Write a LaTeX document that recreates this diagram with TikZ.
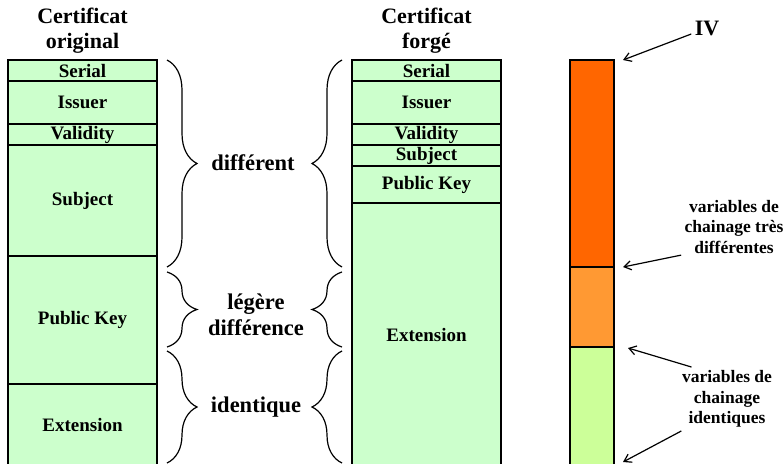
\documentclass[tikz,border=0pt]{standalone}
\usepackage{fontspec}
\setmainfont{Liberation Serif}
\usetikzlibrary{positioning, decorations.pathreplacing, arrows.meta}
\definecolor{fieldgreen}{HTML}{CCFFCC}
\definecolor{ivorange}{HTML}{FF6600}
\definecolor{midorange}{HTML}{FF9933}
\definecolor{lowgreen}{HTML}{CCFF99}
\tikzstyle{field} = [rectangle, draw, line width=1.3pt, outer sep=0pt, inner sep=0pt, fill=fieldgreen, minimum width=149pt, font=\bfseries\fontsize{19}{20}\selectfont]
\tikzstyle{block} = [rectangle, draw, line width=1.3pt, outer sep=0pt, minimum width=44pt]
\tikzstyle{title} = [align=center, font=\bfseries\fontsize{22}{25}\selectfont]
\tikzstyle{note} = [align=center, font=\bfseries\fontsize{17.5}{20.5}\selectfont]
\tikzstyle{brace} = [decorate, decoration={brace, amplitude=30pt}, line width=1.2pt]
\tikzstyle{arrow} = [line width=1.2pt, -{Straight Barb[length=7pt,width=9pt]}]

\begin{document}
\begin{tikzpicture}[x=1pt, y=-1pt]
\clip (0,0) rectangle (783,463);
% certificat original
\node(otitle) [title] at (82.5,31) {Certificat\\original};
\node(oserial) [field, minimum height=21pt, anchor=north] at (82.5,60) {Serial};
\node(oissuer) [field, minimum height=43pt, below=0pt of oserial] {Issuer};
\node(ovalidity) [field, minimum height=21pt, below=0pt of oissuer] {Validity};
\node(osubject) [field, minimum height=111pt, below=0pt of ovalidity] {Subject};
\node(okey) [field, minimum height=128pt, below=0pt of osubject] {Public Key};
\node(oext) [field, minimum height=82pt, below=0pt of okey] {Extension};
% certificat forge
\node(ftitle) [title] at (426.5,31) {Certificat\\forgé};
\node(fserial) [field, minimum height=21pt, anchor=north] at (426.5,60) {Serial};
\node(fissuer) [field, minimum height=43pt, below=0pt of fserial] {Issuer};
\node(fvalidity) [field, minimum height=21pt, below=0pt of fissuer] {Validity};
\node(fsubject) [field, minimum height=21pt, below=0pt of fvalidity] {Subject};
\node(fkey) [field, minimum height=37pt, below=0pt of fsubject] {Public Key};
\node(fext) [field, minimum height=263pt, below=0pt of fkey] {Extension};
% accolades
\draw[brace] (167,60) -- (167,267);
\draw[brace] (167,272) -- (167,347);
\draw[brace] (167,351) -- (167,463);
\draw[brace] (342,267) -- (342,60);
\draw[brace] (342,347) -- (342,272);
\draw[brace] (342,463) -- (342,351);
\node(different) [title, font=\bfseries\fontsize{22.5}{26}\selectfont] at (253,163) {différent};
\node(legere) [title, font=\bfseries\fontsize{22.5}{26}\selectfont] at (256,315) {légère\\différence};
\node(identique) [title, font=\bfseries\fontsize{22.5}{26}\selectfont] at (256,407) {identique};
% variables de chainage
\node(ivblock) [block, fill=ivorange, minimum height=207pt, anchor=north] at (592,60) {};
\node(midblock) [block, fill=midorange, minimum height=80pt, below=0pt of ivblock] {};
\node(lowblock) [block, fill=lowgreen, minimum height=120pt, below=0pt of midblock] {};
\node(iv) [title] at (707,28) {IV};
\node(tresdiff) [note] at (734,227) {variables de\\chainage très\\différentes};
\node(ident) [note] at (727,399) {variables de\\chainage\\identiques};
\coordinate(ivtip) at (623,60);
\coordinate(difftip) at (623,267);
\coordinate(identtip) at (628,348);
\coordinate(endtip) at (623,462);
\draw[arrow] (iv) -- (ivtip);
\draw[arrow] (tresdiff.208) -- (difftip);
\draw[arrow] (ident.138) -- (identtip);
\draw[arrow] (ident.215) -- (endtip);
\end{tikzpicture}
\end{document}
